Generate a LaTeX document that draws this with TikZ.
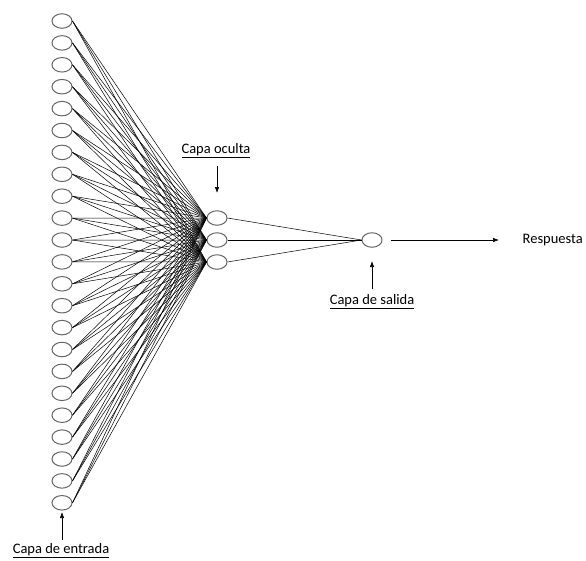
\documentclass[tikz,border=0pt]{standalone}
\usepackage{fontspec}
\setmainfont{Carlito}
\usetikzlibrary{arrows.meta,shapes.geometric}
\begin{document}
\begin{tikzpicture}[x=1pt,y=-1pt,
  neuron/.style={ellipse,draw=black!60,line width=1pt,minimum width=20pt,minimum height=14.5pt,inner sep=0pt},
  conn/.style={line width=0.5pt,black},
  pointer/.style={line width=0.6pt,-{Latex[length=6pt,width=4.5pt]}},
  lbl/.style={font=\fontsize{14.5}{16}\selectfont,inner sep=1pt}]
\useasboundingbox (0,0) rectangle (586,560);
\foreach \i in {1,...,23}{
  \node[neuron] (in\i) at (62,{21+(\i-1)*21.9}) {};
}
\foreach \j in {1,2,3}{
  \node[neuron] (h\j) at (217,{196+\j*22}) {};
}
\node[neuron] (out) at (372,240) {};
\foreach \i in {1,...,23}{
  \foreach \j in {1,2,3}{
    \draw[conn] (in\i.east) -- (h\j.west);
  }
}
\foreach \j in {1,2,3}{
  \draw[conn] (h\j.east) -- (out.west);
}
\coordinate (ra) at (391,240);
\coordinate (rb) at (499,240);
\draw[pointer] (ra) -- (rb);
\node[lbl,anchor=east] (resp) at (584,240) {Respuesta};
\node[lbl] (lo) at (216,151) {\underline{Capa oculta}};
\coordinate (loa) at (217,166);
\coordinate (lob) at (217,193);
\draw[pointer] (loa) -- (lob);
\node[lbl] (ls) at (372,302) {\underline{Capa de salida}};
\coordinate (lsa) at (372,289);
\coordinate (lsb) at (372,261);
\draw[pointer] (lsa) -- (lsb);
\node[lbl] (le) at (61,551) {\underline{Capa de entrada}};
\coordinate (lea) at (62,540);
\coordinate (leb) at (62,512);
\draw[pointer] (lea) -- (leb);
\end{tikzpicture}
\end{document}
